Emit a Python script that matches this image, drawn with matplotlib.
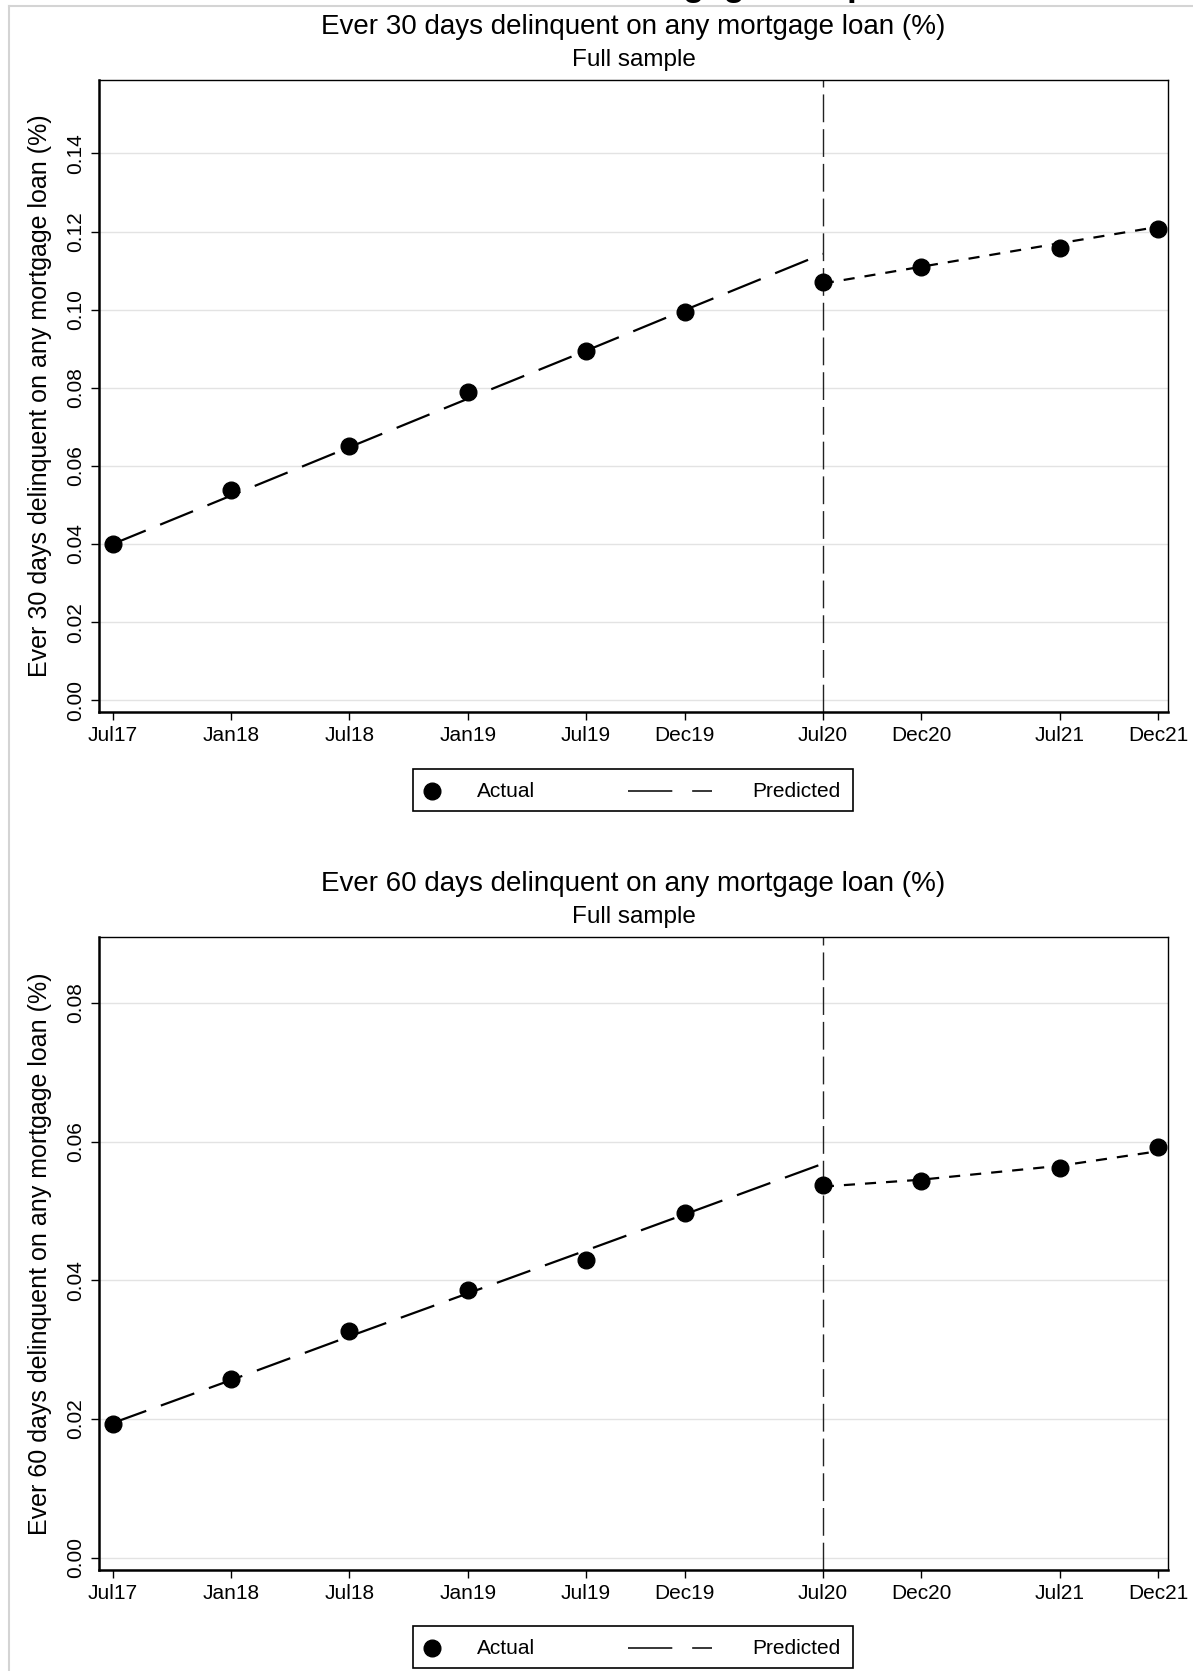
import matplotlib
matplotlib.use("Agg")
import matplotlib.pyplot as plt
from matplotlib.lines import Line2D
from matplotlib.patches import Rectangle

plt.rcParams['font.family'] = ['Liberation Sans', 'DejaVu Sans']

# dates as months since Jul17
tick_labels = ["Jul17", "Jan18", "Jul18", "Jan19", "Jul19", "Dec19", "Jul20", "Dec20", "Jul21", "Dec21"]
months = [0, 6, 12, 18, 24, 29, 36, 41, 48, 53]
break_month = 36

# panel 1: ever 30 days delinquent
actual30 = [0.0401, 0.0538, 0.0650, 0.0789, 0.0895, 0.0993, 0.1070, 0.1108, 0.1157, 0.1206]
pred30_pre = [0.0400, 0.0524, 0.0648, 0.0772, 0.0895, 0.0999, 0.1143]
pred30_post = [0.1067, 0.1110, 0.1170, 0.1212]

# panel 2: ever 60 days delinquent
actual60 = [0.0192, 0.0258, 0.0326, 0.0386, 0.0429, 0.0497, 0.0538, 0.0543, 0.0562, 0.0592]
pred60_pre = [0.0194, 0.0256, 0.0319, 0.0381, 0.0443, 0.0495, 0.0568]
pred60_post = [0.0535, 0.0545, 0.0565, 0.0586]

W, H = 1193, 1671
fig = plt.figure(figsize=(W / 100, H / 100), dpi=100)

def fx(px):
    return px / W

def fy(py):
    return 1 - py / H

def box(l, t, r, b):
    return [l / W, 1 - b / H, (r - l) / W, (b - t) / H]

# light frame of the page
fig.add_artist(Line2D([fx(9), fx(9)], [0, fy(6)], color="#d4d4d4", lw=1.5))
fig.add_artist(Line2D([fx(9), 1], [fy(6), fy(6)], color="#d4d4d4", lw=1.5))
# page heading, cut off at the top edge (only descenders show)
fig.text(fx(608), fy(-4), "Mortgage Sample", ha="left", va="baseline",
         fontsize=25, fontweight="bold")

axes_mid = fx((99 + 1168) / 2)


def legend_box(top):
    # Stata-style key: marker, label, dashed line, label
    bottom = top + 42
    mid = fy(top + 22)
    fig.add_artist(Rectangle((fx(413), fy(bottom)), fx(853) - fx(413), fy(top) - fy(bottom),
                             fill=False, ec="black", lw=1.2, transform=fig.transFigure))
    fig.add_artist(Line2D([fx(432)], [mid], marker="o", color="black", ms=12, ls="none"))
    fig.text(fx(477), mid, "Actual", ha="left", va="center", fontsize=15)
    fig.add_artist(Line2D([fx(628), fx(712)], [mid, mid], color="black", lw=1.1, dashes=(29, 13)))
    fig.text(fx(752), mid, "Predicted", ha="left", va="center", fontsize=15)


def panel(top, bottom, title, ylabel, actual, pre, post, yticks, ylim, leg_top):
    ax = fig.add_axes(box(99, top, 1168, bottom))
    pre_x = [m for m in months if m <= break_month]
    post_x = [m for m in months if m >= break_month]
    ax.axvline(break_month, color="#222222", lw=1.0, dashes=(20, 5), zorder=1)
    ax.plot(pre_x, pre, color="black", lw=1.6, dashes=(16, 7), zorder=2)
    ax.plot(post_x, post, color="black", lw=1.6, dashes=(5, 4.5), zorder=2)
    ax.plot(months, actual, "o", color="black", ms=12, zorder=3)
    ax.set_xlim(-0.7, 53.5)
    ax.set_ylim(*ylim)
    ax.set_xticks(months)
    ax.set_xticklabels(tick_labels, fontsize=15)
    ax.set_yticks(yticks)
    ax.set_yticklabels(["%.2f" % v for v in yticks], fontsize=15, rotation=90, va="center")
    ax.grid(axis="y", color="#e3e3e3", lw=1.0)
    ax.set_axisbelow(True)
    ax.tick_params(direction="out", length=6, width=1.0, color="black")
    ax.tick_params(axis="x", pad=4)
    ax.tick_params(axis="y", pad=4)
    for s in ["left", "bottom"]:
        ax.spines[s].set_linewidth(1.8)
    for s in ["top", "right"]:
        ax.spines[s].set_linewidth(1.0)
    ax.set_ylabel(ylabel, fontsize=18)
    ax.yaxis.set_label_coords((52 - 99) / (1168 - 99), 0.5)
    fig.text(axes_mid, fy(top - 53), title, ha="center", va="center", fontsize=20)
    fig.text(axes_mid, fy(top - 20), "Full sample", ha="center", va="center", fontsize=17.5)
    legend_box(leg_top)
    return ax


panel(80, 712, "Ever 30 days delinquent on any mortgage loan (%)",
      "Ever 30 days delinquent on any mortgage loan (%)",
      actual30, pred30_pre, pred30_post,
      [0.00, 0.02, 0.04, 0.06, 0.08, 0.10, 0.12, 0.14], (-0.003, 0.1588), 769)

panel(937, 1570, "Ever 60 days delinquent on any mortgage loan (%)",
      "Ever 60 days delinquent on any mortgage loan (%)",
      actual60, pred60_pre, pred60_post,
      [0.00, 0.02, 0.04, 0.06, 0.08], (-0.0018, 0.0895), 1626)

fig.savefig("out.png", dpi=100, facecolor="white")
